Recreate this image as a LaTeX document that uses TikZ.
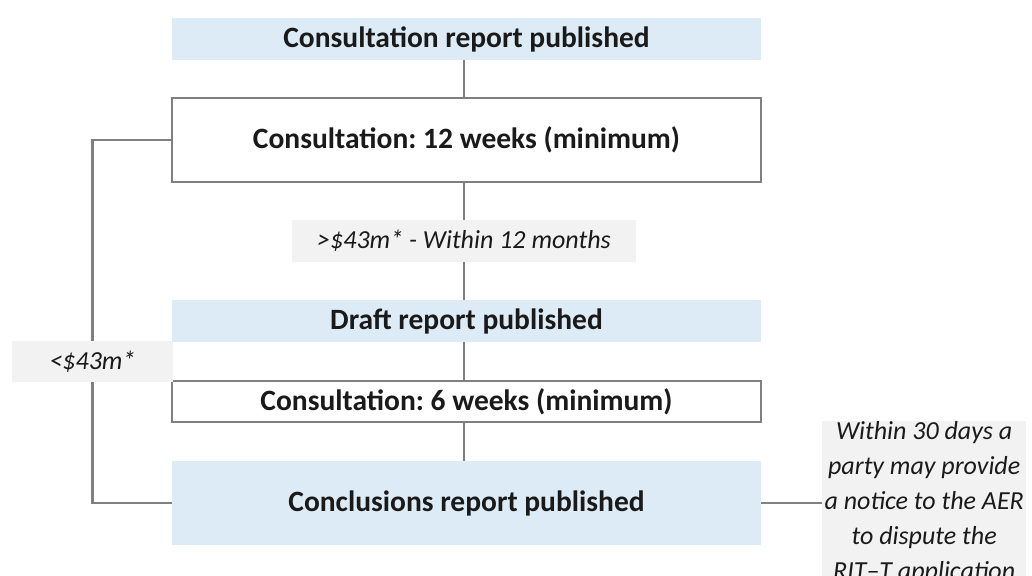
\documentclass[tikz,border=0pt]{standalone}
\usepackage{fontspec}
\setmainfont{Carlito}
\frenchspacing
\definecolor{lblue}{HTML}{DDEBF7}
\definecolor{lgray}{HTML}{F2F2F2}
\definecolor{lnc}{HTML}{808080}
\definecolor{txt}{HTML}{1A1A1A}
\begin{document}
\begin{tikzpicture}[x=1pt,y=-1pt,
  bluebox/.style={fill=lblue,draw=none,minimum width=589pt,inner sep=0pt,font=\fontsize{29.5}{34}\selectfont\bfseries,text=txt},
  whitebox/.style={fill=white,draw=lnc,line width=1.2pt,minimum width=589pt,inner sep=0pt,font=\fontsize{29.5}{34}\selectfont\bfseries,text=txt},
  graylbl/.style={fill=lgray,draw=none,inner sep=0pt,font=\fontsize{26}{35}\selectfont\itshape,text=txt},
  conn/.style={draw=lnc,line width=2.2pt}]
\useasboundingbox (0,0) rectangle (1032,575);
\node[bluebox,minimum height=42pt] (b1) at (466.5,39) {Consultation report published};
\node[whitebox,minimum height=84pt] (b2) at (466.5,140) {Consultation: 12 weeks (minimum)};
\node[graylbl,minimum width=344pt,minimum height=42pt] (l1) at (464,241) {>\$43m* - Within 12 months};
\node[bluebox,minimum height=42pt] (b3) at (466.5,321) {Draft report published};
\node[whitebox,minimum height=41pt] (b4) at (466.5,401.5) {Consultation: 6 weeks (minimum)};
\node[bluebox,minimum height=84pt] (b5) at (466.5,503) {Conclusions report published};
\node[graylbl,minimum width=161pt,minimum height=41pt] (ll) at (92.5,361.5) {<\$43m*};
\node[graylbl,minimum width=204pt,minimum height=162pt,anchor=north west] (rl) at (822,421) {};
\node[graylbl,fill=none,align=center,anchor=north] (rt) at (rl.north)
  {Within 30 days a\\party may provide\\a notice to the AER\\to dispute the\\RIT–T application};
\draw[conn] (b1.south -| l1) -- (b2.north -| l1);
\draw[conn] (b2.south -| l1) -- (l1.north);
\draw[conn] (l1.south) -- (b3.north -| l1);
\draw[conn] (b3.south -| l1) -- (b4.north -| l1);
\draw[conn] (b4.south -| l1) -- (b5.north -| l1);
\draw[conn] (b2.west) -| (ll.north);
\draw[conn] (ll.south) |- (b5.west);
\draw[conn] (b5.east) -- (b5.east -| rl.west);
\end{tikzpicture}
\end{document}
